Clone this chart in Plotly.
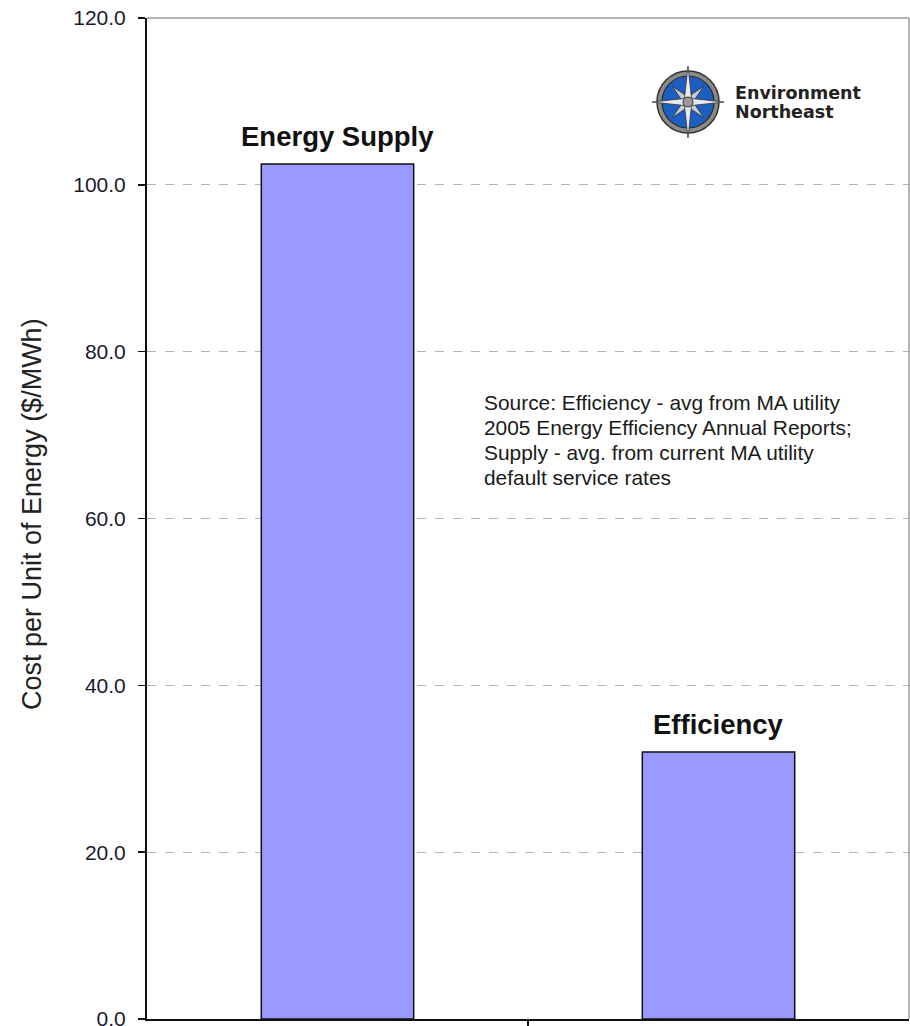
import math
import plotly.graph_objects as go

categories = ["Energy Supply", "Efficiency"]
costs = [102.5, 32.0]
y_ticks = [0, 20, 40, 60, 80, 100, 120]
y_title = "Cost per Unit of Energy ($/MWh)"
source_lines = [
    "Source: Efficiency - avg from MA utility",
    "2005 Energy Efficiency Annual Reports;",
    "Supply - avg. from current MA utility",
    "default service rates",
]
logo_lines = ["Environment", "Northeast"]

W, H = 910, 1026
L, R, T, B = 147, 1, 18, 7
PW, PH = W - L - R, H - T - B


def px(x):
    return (x - L) / PW


def py(y):
    return (H - B - y) / PH


xs = list(range(len(categories)))

fig = go.Figure()
fig.add_trace(go.Bar(
    x=xs, y=costs, width=0.4,
    marker=dict(color="#9999FF", line=dict(color="#111111", width=1.5)),
    hoverinfo="skip",
))

annotations = []
for xi, c, v in zip(xs, categories, costs):
    annotations.append(dict(
        x=xi, y=v, xref="x", yref="y", text="<b>" + c + "</b>",
        showarrow=False, yanchor="bottom", yshift=10,
        font=dict(family="Liberation Sans, Arial", size=27.5, color="#111111"),
    ))

annotations.append(dict(
    x=px(32), y=py(514), xref="paper", yref="paper", text=y_title,
    textangle=-90, showarrow=False, xanchor="center", yanchor="middle",
    font=dict(family="Liberation Sans, Arial", size=27, color="#222222"),
))

for i, line in enumerate(source_lines):
    annotations.append(dict(
        x=px(482), y=py(402 + 25 * i), xref="paper", yref="paper",
        text=line, align="left",
        showarrow=False, xanchor="left", yanchor="middle",
        font=dict(family="Liberation Sans, Arial", size=20.9, color="#1a1a1a"),
    ))

for i, t in enumerate(logo_lines):
    annotations.append(dict(
        x=px(733), y=py(93 + 19 * i), xref="paper", yref="paper",
        text="<b>" + t + "</b>", showarrow=False,
        xanchor="left", yanchor="middle",
        font=dict(family="DejaVu Sans", size=17.5, color="#222222"),
    ))

shapes = []
# plot area top / right border
shapes.append(dict(type="line", xref="paper", yref="paper", x0=0, x1=1, y0=1, y1=1,
                   line=dict(color="#9a9a9a", width=1.5)))
shapes.append(dict(type="line", xref="paper", yref="paper", x0=1, x1=1, y0=0, y1=1,
                   line=dict(color="#9a9a9a", width=1.5)))

# compass logo
cx, cy = 688, 102


def circle(r, fill, lc, lw):
    return dict(type="circle", xref="paper", yref="paper",
                x0=px(cx - r), x1=px(cx + r), y0=py(cy + r), y1=py(cy - r),
                fillcolor=fill, line=dict(color=lc, width=lw))


def star_path(n, r_out, r_in, rot):
    pts = []
    for k in range(2 * n):
        ang = rot + k * math.pi / n
        r = r_out if k % 2 == 0 else r_in
        pts.append((cx + r * math.sin(ang), cy - r * math.cos(ang)))
    d = "M " + " L ".join(f"{px(a):.5f},{py(b):.5f}" for a, b in pts) + " Z"
    return d


shapes.append(circle(31, "#8a8a8a", "#333333", 1.5))
shapes.append(circle(26, "#1c5fc0", "#2a2a2a", 1.2))
shapes.append(dict(type="path", xref="paper", yref="paper",
                   path=star_path(4, 22, 5, math.pi / 4),
                   fillcolor="#c8ccd4", line=dict(color="#333333", width=0.8)))
shapes.append(dict(type="path", xref="paper", yref="paper",
                   path=star_path(4, 36, 5, 0),
                   fillcolor="#e8e8ec", line=dict(color="#333333", width=0.8)))
shapes.append(circle(5, "#9a9a9a", "#333333", 1))

fig.update_layout(
    width=W, height=H,
    margin=dict(l=L, r=R, t=T, b=B, pad=0, autoexpand=False),
    paper_bgcolor="white", plot_bgcolor="white",
    showlegend=False, bargap=0.6,
    annotations=annotations, shapes=shapes,
    xaxis=dict(range=[-0.5, len(categories) - 0.5], tickvals=[0.5], ticktext=[""],
               ticks="outside", ticklen=6, tickwidth=1.5, tickcolor="#111111",
               showline=True, linecolor="#111111", linewidth=2, automargin=False,
               showgrid=False, zeroline=False, fixedrange=True),
    yaxis=dict(range=[0, 120], tickvals=y_ticks, tickformat=".1f",
               ticks="outside", ticklen=7, tickwidth=1.5, tickcolor="#111111",
               showline=True, linecolor="#111111", linewidth=2, automargin=False,
               showgrid=True, gridcolor="#b4b4b4", griddash="dash", gridwidth=1,
               zeroline=False, ticklabelstandoff=8, ticklabeloverflow="allow",
               fixedrange=True,
               tickfont=dict(family="Liberation Sans, Arial", size=21, color="#1a1a2e")),
)

fig.write_html(
    "out.html",
    config={"displayModeBar": False, "staticPlot": True},
    post_script="document.body.style.margin='0';document.body.style.overflow='hidden';",
)
